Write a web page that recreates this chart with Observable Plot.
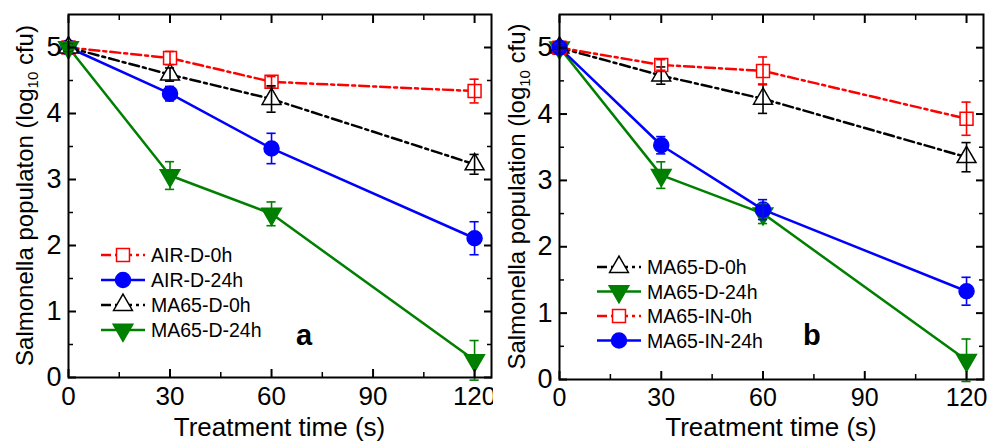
<!DOCTYPE html>
<html><head><meta charset="utf-8">
<script src="https://cdn.jsdelivr.net/npm/d3@7"></script>
<script src="https://cdn.jsdelivr.net/npm/@observablehq/plot@0.6"></script>
<style>
body{margin:0;background:#fff;}
#wrap{display:flex;width:987px;height:442px;background:#fff;}
svg{overflow:visible;}
</style></head><body><div id="wrap"></div>
<script>
// ---- data ----
const times = [0, 30, 60, 120];
const xTicks = [0, 30, 60, 90, 120];
const xMinor = [15, 45, 75, 105];
const yTicks = [0, 1, 2, 3, 4, 5];
const yMinor = [0.5, 1.5, 2.5, 3.5, 4.5];

// panel a
const airD0h = [5.0, 4.84, 4.48, 4.34];
const airD0hErr = [0.05, 0.1, 0.08, 0.18];
const airD24h = [5.0, 4.30, 3.47, 2.11];
const airD24hErr = [0.05, 0.11, 0.23, 0.25];
const ma65D0hA = [5.0, 4.59, 4.22, 3.23];
const ma65D0hAErr = [0.05, 0.1, 0.2, 0.15];
const ma65D24hA = [5.0, 3.06, 2.48, 0.26];
const ma65D24hAErr = [0.05, 0.21, 0.18, 0.3];

// panel b
const ma65D0hB = [5.0, 4.58, 4.23, 3.35];
const ma65D0hBErr = [0.05, 0.13, 0.22, 0.22];
const ma65D24hB = [5.0, 3.08, 2.50, 0.29];
const ma65D24hBErr = [0.05, 0.2, 0.15, 0.32];
const ma65IN0h = [5.0, 4.74, 4.65, 3.93];
const ma65IN0hErr = [0.05, 0.08, 0.21, 0.25];
const ma65IN24h = [5.0, 3.53, 2.56, 1.33];
const ma65IN24hErr = [0.05, 0.13, 0.15, 0.21];

const labelsA = ["AIR-D-0h", "AIR-D-24h", "MA65-D-0h", "MA65-D-24h"];
const labelsB = ["MA65-D-0h", "MA65-D-24h", "MA65-IN-0h", "MA65-IN-24h"];

// ---- styles ----
const DASH = "10,4,3,4";
const RED = {color: "#ff0000", dash: DASH, symbol: "square", fill: "white", r: 7.3, rotate: 0};
const BLUE = {color: "#0000ff", dash: null, symbol: "circle", fill: "#0000ff", r: 7.5, rotate: 0};
const BLACK = {color: "#000000", dash: DASH, symbol: "triangle", fill: "white", r: 7.0, rotate: 0};
const GREEN = {color: "#007f00", dash: null, symbol: "triangle", fill: "#007f00", r: 7.3, rotate: 180};

const FONT = "'Liberation Sans', Arial, sans-serif";

function mk(label, vals, errs, st) {
  return {label, st, rows: times.map((t, i) => ({x: t, y: vals[i], lo: vals[i] - errs[i], hi: vals[i] + errs[i]}))};
}

const seriesA = [
  mk(labelsA[0], airD0h, airD0hErr, RED),
  mk(labelsA[1], airD24h, airD24hErr, BLUE),
  mk(labelsA[2], ma65D0hA, ma65D0hAErr, BLACK),
  mk(labelsA[3], ma65D24hA, ma65D24hAErr, GREEN)
];
const seriesB = [
  mk(labelsB[0], ma65D0hB, ma65D0hBErr, BLACK),
  mk(labelsB[1], ma65D24hB, ma65D24hBErr, GREEN),
  mk(labelsB[2], ma65IN0h, ma65IN0hErr, RED),
  mk(labelsB[3], ma65IN24h, ma65IN24hErr, BLUE)
];

const symMap = {square: d3.symbolSquare, circle: d3.symbolCircle, triangle: d3.symbolTriangle};
const fmt = d3.format("d");

function panel(cfg) {
  const marks = [];
  for (const s of cfg.series) {
    marks.push(Plot.line(s.rows, {x: "x", y: "y", stroke: s.st.color, strokeWidth: 2.5, strokeDasharray: s.st.dash}));
  }
  for (const s of cfg.series) {
    marks.push(Plot.dot(s.rows, {x: "x", y: "y", symbol: s.st.symbol, r: s.st.r, fill: s.st.fill, stroke: s.st.color, strokeWidth: 1.5, rotate: s.st.rotate}));
  }
  for (const s of cfg.series) {
    marks.push(Plot.ruleX(s.rows, {x: "x", y1: "lo", y2: "hi", stroke: s.st.color, strokeWidth: 1.6}));
    marks.push(Plot.ruleY(s.rows, {y: "hi", x1: d => d.x - 1.35, x2: d => d.x + 1.35, stroke: s.st.color, strokeWidth: 1.6}));
    marks.push(Plot.ruleY(s.rows, {y: "lo", x1: d => d.x - 1.35, x2: d => d.x + 1.35, stroke: s.st.color, strokeWidth: 1.6}));
  }
  marks.push(
    Plot.axisX({ticks: xTicks, tickSize: -8, tickPadding: 17, fontSize: cfg.xTickFont, strokeWidth: 2, tickFormat: fmt, label: null}),
    Plot.axisX({ticks: xMinor, tickSize: -5, tickFormat: () => "", strokeWidth: 1.5, label: null}),
    Plot.axisX({anchor: "top", ticks: xTicks, tickSize: -8, tickFormat: () => "", strokeWidth: 2, label: null}),
    Plot.axisX({anchor: "top", ticks: xMinor, tickSize: -5, tickFormat: () => "", strokeWidth: 1.5, label: null}),
    Plot.axisY({ticks: yTicks, tickSize: -8, tickPadding: 15, fontSize: 27, strokeWidth: 2, tickFormat: fmt, label: null}),
    Plot.axisY({ticks: yMinor, tickSize: -5, tickFormat: () => "", strokeWidth: 1.5, label: null}),
    Plot.axisY({anchor: "right", ticks: yTicks, tickSize: -8, tickFormat: () => "", strokeWidth: 2, label: null}),
    Plot.axisY({anchor: "right", ticks: yMinor, tickSize: -5, tickFormat: () => "", strokeWidth: 1.5, label: null}),
    Plot.frame({stroke: "black", strokeWidth: 2})
  );
  const svg = Plot.plot({
    width: cfg.width, height: 442,
    marginLeft: cfg.marginLeft, marginRight: cfg.marginRight,
    marginTop: 14, marginBottom: cfg.marginBottom,
    x: {domain: [0, 125]},
    y: {domain: [0, 5.5]},
    style: {fontFamily: FONT, background: "white", color: "black", overflow: "visible"},
    marks
  });
  const sel = d3.select(svg);
  const plotCx = cfg.marginLeft + (cfg.width - cfg.marginLeft - cfg.marginRight) / 2;
  const plotCy = 14 + (442 - 14 - cfg.marginBottom) / 2;
  // x label
  sel.append("text").attr("x", plotCx).attr("y", 436).attr("text-anchor", "middle")
    .attr("font-family", FONT).attr("font-size", 26).attr("fill", "black").text("Treatment time (s)");
  // y label
  const yl = sel.append("text").attr("transform", `translate(${cfg.ylabelX},${plotCy}) rotate(-90)`)
    .attr("text-anchor", "middle").attr("font-family", FONT).attr("font-size", 24).attr("fill", "black");
  yl.append("tspan").text(cfg.ylabel + " (log");
  yl.append("tspan").attr("font-size", 15).attr("dy", 5).text("10");
  yl.append("tspan").attr("dy", -5).text(" cfu)");
  // panel letter
  sel.append("text").attr("x", cfg.letterX).attr("y", 345).attr("text-anchor", "start").attr("font-family", FONT)
    .attr("font-size", 29).attr("font-weight", "bold").attr("fill", "black").text(cfg.letter);
  // legend
  const lg = sel.append("g").attr("transform", `translate(${cfg.legX},${cfg.legY})`);
  cfg.series.forEach((s, i) => {
    const g = lg.append("g").attr("transform", `translate(0,${i * cfg.legStep})`);
    g.append("line").attr("x1", 0).attr("x2", 44).attr("y1", 0).attr("y2", 0)
      .attr("stroke", s.st.color).attr("stroke-width", 2.5).attr("stroke-dasharray", s.st.dash);
    g.append("path").attr("d", d3.symbol(symMap[s.st.symbol], Math.PI * s.st.r * s.st.r)())
      .attr("transform", `translate(22,0) rotate(${s.st.rotate})`)
      .attr("fill", s.st.fill).attr("stroke", s.st.color).attr("stroke-width", 1.5);
    g.append("text").attr("x", 50).attr("y", 0).attr("dy", "0.36em").attr("text-anchor", "start")
      .attr("font-family", FONT).attr("font-size", 19.5).attr("fill", "black").text(s.label);
  });
  return svg;
}

const wrap = document.getElementById("wrap");
wrap.appendChild(panel({
  series: seriesA, width: 493, marginLeft: 68, marginRight: 2, marginBottom: 65, xTickFont: 26,
  ylabel: "Salmonella populaton", ylabelX: 33, letter: "a", letterX: 296,
  legX: 101, legY: 255, legStep: 25
}));
wrap.appendChild(panel({
  series: seriesB, width: 494, marginLeft: 66, marginRight: 4, marginBottom: 63, xTickFont: 25,
  ylabel: "Salmonella population", ylabelX: 32, letter: "b", letterX: 310,
  legX: 104, legY: 267, legStep: 24.5
}));
</script></body></html>
